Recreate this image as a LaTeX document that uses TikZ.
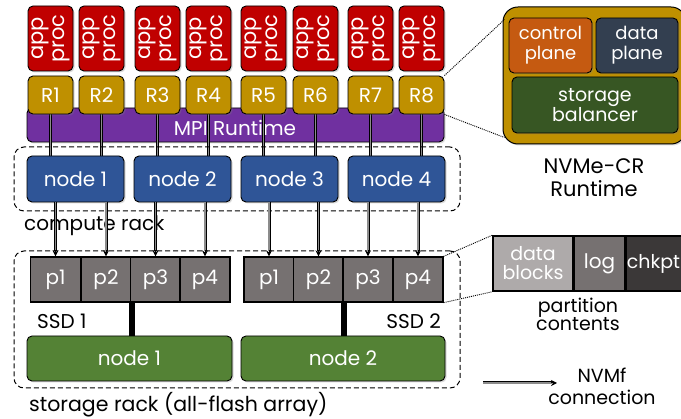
\documentclass[tikz,border=0pt]{standalone}
\usepackage{fontspec}
\setmainfont{Poppins}
\usetikzlibrary{arrows.meta,shadows,calc}

\definecolor{appred}{HTML}{C00000}
\definecolor{rgold}{HTML}{BF9000}
\definecolor{mpipurple}{HTML}{7030A0}
\definecolor{nodeblue}{HTML}{2F5597}
\definecolor{stgreen}{HTML}{548235}
\definecolor{ctrlorange}{HTML}{C55A11}
\definecolor{datanavy}{HTML}{333F50}
\definecolor{balgreen}{HTML}{375623}
\definecolor{partgray}{HTML}{767171}
\definecolor{lightpart}{HTML}{AEAAAA}
\definecolor{darkpart}{HTML}{3B3838}
\definecolor{linkcore}{HTML}{8C8C8C}

\pgfdeclarelayer{back}
\pgfdeclarelayer{mid}
\pgfsetlayers{back,mid,main}

% font size with a matching line distance
\newcommand{\fs}[2]{\fontsize{#1}{#2}\selectfont}

\tikzset{
  box/.style={draw=black, line width=0.9pt, rounded corners=5pt, text=white,
    align=center, inner sep=0pt,
    drop shadow={shadow xshift=1.5pt, shadow yshift=-1.5pt, opacity=0.3}},
  appbox/.style={box, fill=appred, minimum width=45pt, minimum height=65pt},
  apptext/.style={text=white, align=center, inner sep=0pt, rotate=90,
    font=\fs{21}{21}},
  rbox/.style={box, fill=rgold, minimum width=45pt, minimum height=38pt, font=\fs{20}{22}},
  cnode/.style={box, fill=nodeblue, minimum width=97pt, minimum height=46pt, font=\fs{20}{22}},
  snode/.style={box, fill=stgreen, minimum height=45pt, font=\fs{20}{22}},
  part/.style={draw=black, line width=1.3pt, fill=partgray, text=white,
    minimum width=50pt, minimum height=45pt, inner sep=0pt, font=\fs{20}{22}},
  rack/.style={draw=black, line width=1pt, dash pattern=on 5pt off 3pt,
    rounded corners=10pt, inner sep=0pt},
  % a connector is a black band with a grey core
  linkouter/.style={draw=black, line width=3pt},
  linkinner/.style={draw=linkcore, line width=1.1pt},
  tip/.style={-{Stealth[length=6pt,width=6pt]}, line width=1pt},
  dotline/.style={draw=black, line width=0.9pt, dash pattern=on 1pt off 1pt},
  label/.style={text=black, inner sep=0pt, align=center},
  cell/.style={draw=black, line width=1.5pt, text=white, minimum height=55pt,
    inner sep=0pt, align=center},
}

\begin{document}
\begin{tikzpicture}[x=1pt, y=-1pt]
\clip (0,0) rectangle (681,419);
\useasboundingbox (0,0) rectangle (681,419);

% MPI runtime bar sits underneath the rank-to-node links
\begin{pgfonlayer}{back}
  \node[box, fill=mpipurple, minimum width=417pt, minimum height=34pt] (mpi) at (235.5,125) {};
  \node[label, text=white, font=\fs{20}{22}] (mpitext) at (235,128) {MPI Runtime};
\end{pgfonlayer}

% application processes and their ranks
\foreach \i/\x in {1/28, 2/79, 3/135, 4/186, 5/241, 6/293, 7/348, 8/399} {
  \node[appbox] (app\i) at (\x+22.5,38.5) {};
  \node[apptext] at (app\i) {app\\proc};
  \node[rbox] (r\i) at (\x+22.5,95) {R\i};
}

% compute rack
\node[rack, minimum width=446pt, minimum height=64pt] (crack) at (237,179) {};
\foreach \i/\x in {1/75.5, 2/182.5, 3/289.5, 4/396.5}
  \node[cnode] (cn\i) at (\x,179) {node \i};
\node[label, anchor=west, font=\fs{20}{22}] (crlabel) at (24,226) {compute rack};

% storage rack
\node[rack, minimum width=446pt, minimum height=137pt] (srack) at (237,319.5) {};
\foreach \i/\x in {1/55.5, 2/106, 3/155.5, 4/205}
  \node[part] (sa\i) at (\x,279.5) {p\i};
\foreach \i/\x in {1/269, 2/318.5, 3/368, 4/418}
  \node[part] (sb\i) at (\x,279.5) {p\i};
\node[snode, minimum width=205pt] (sn1) at (129.5,358.5) {node 1};
\node[snode, minimum width=204pt] (sn2) at (343,358.5) {node 2};
\node[label, anchor=west, font=\fs{20}{22}] (ssd1) at (37,321) {SSD 1};
\node[label, anchor=east, font=\fs{20}{22}] (ssd2) at (441,321) {SSD 2};
\node[label, anchor=west, font=\fs{20.5}{22}] (srlabel) at (29,405) {storage rack (all-flash array)};

% SSD to storage node attachments
\draw[line width=6pt] (sa2.south east) -- (sa2.south east |- sn1.north);
\draw[line width=6pt] (sb2.south east) -- (sb2.south east |- sn2.north);

% ranks reach their compute nodes through the MPI runtime
\begin{pgfonlayer}{mid}
\foreach \r/\n in {1/1, 2/1, 3/2, 4/2, 5/3, 6/3, 7/4, 8/4} {
  \draw[linkouter] (r\r.south) -- (r\r.south |- cn\n.north);
  \draw[linkinner] (r\r.south) -- (r\r.south |- cn\n.north);
}
\end{pgfonlayer}

% NVMf connections from compute nodes to partitions
\foreach \n/\p in {1/sa1, 1/sa2, 2/sa3, 2/sa4, 3/sb1, 3/sb2, 4/sb3, 4/sb4} {
  \draw[linkouter] (\p.north |- cn\n.south) -- ($(\p.north)+(0,-5)$);
  \draw[linkinner] (\p.north |- cn\n.south) -- ($(\p.north)+(0,-5)$);
  \draw[tip] ($(\p.north)+(0,-6)$) -- (\p.north);
}

% NVMe-CR runtime detail
\node[draw=black, line width=1pt, fill=rgold, rounded corners=15pt,
  minimum width=183pt, minimum height=137pt, inner sep=0pt,
  drop shadow={shadow xshift=1.5pt, shadow yshift=-1.5pt, opacity=0.3}] (nvme) at (594.5,75.5) {};
\node[box, fill=ctrlorange, minimum width=83pt, minimum height=55pt, font=\fs{18}{20}] (ctrl) at (550.5,45.5) {control\\plane};
\node[box, fill=datanavy, minimum width=82pt, minimum height=55pt, font=\fs{18}{20}] (data) at (637,45.5) {data\\plane};
\node[box, fill=balgreen, minimum width=166pt, minimum height=56pt, font=\fs{19}{20}] (bal) at (595,105) {storage\\balancer};
\node[label, font=\fs{21}{23}] (nvmelabel) at (594,178) {NVMe-CR\\Runtime};
\draw[dotline] (r8.north east) -- ($(nvme.north west)+(2,13)$);
\draw[dotline] (r8.south east) -- ($(nvme.south west)+(2,-7)$);

% partition contents detail
\node[cell, fill=lightpart, minimum width=80pt, font=\fs{19}{19}] (blocks) at (533,263.5) {data\\blocks};
\node[cell, fill=partgray, minimum width=50pt, font=\fs{20}{22}, anchor=west] (log) at (blocks.east) {log};
\node[cell, fill=darkpart, minimum width=70pt, font=\fs{19}{22}, anchor=west] (chk) at (log.east) {\hspace*{-15pt}chkpt};
\node[label, font=\fs{19}{18}] (pclabel) at (578,314) {partition\\contents};
\draw[dotline] (sb4.north east) -- (blocks.north west);
\draw[dotline] (sb4.south east) -- (blocks.south west);

% legend
\coordinate (legA) at (483,383);
\coordinate (legB) at (557,383);
\draw[linkouter] (legA) -- ($(legB)+(-5,0)$);
\draw[linkinner] (legA) -- ($(legB)+(-5,0)$);
\draw[tip] ($(legB)+(-6,0)$) -- (legB);
\node[label, font=\fs{19}{22}] (leglabel) at (602,386) {NVMf\\connection};
\end{tikzpicture}
\end{document}
